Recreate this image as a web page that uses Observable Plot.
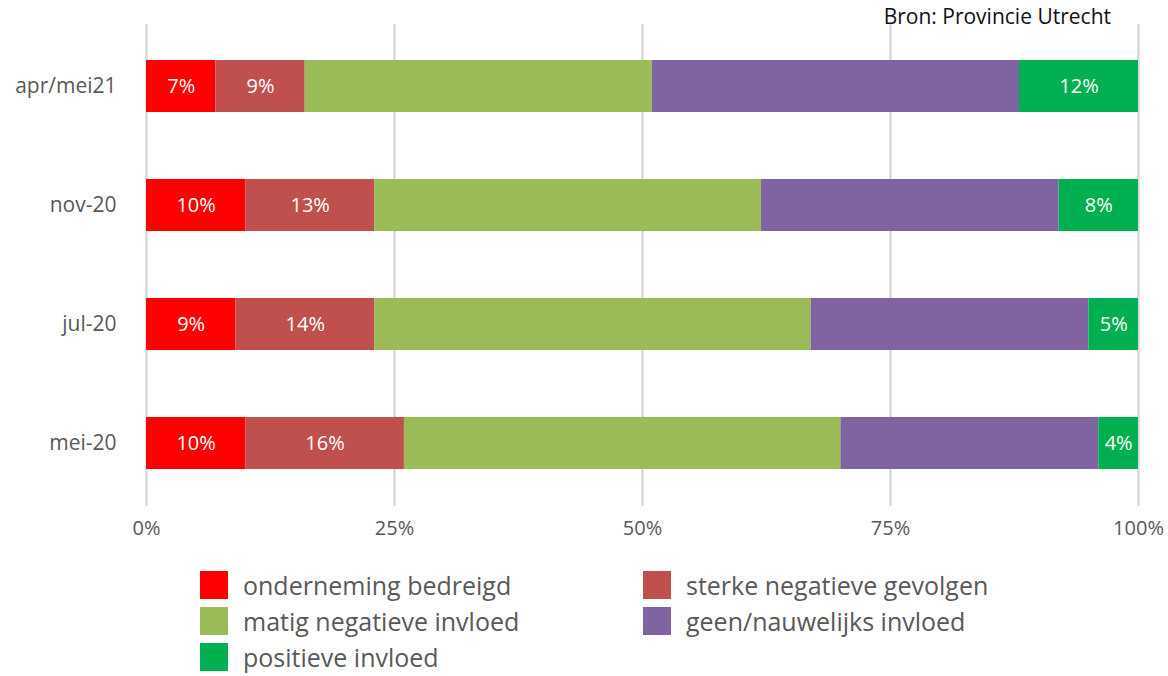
<!DOCTYPE html>
<html>
<head>
<meta charset="utf-8">
<script src="https://cdn.jsdelivr.net/npm/d3@7"></script>
<script src="https://cdn.jsdelivr.net/npm/@observablehq/plot@0.6"></script>
<style>
  body { margin: 0; background: #fff; font-family: "Open Sans", sans-serif; }
  #wrap { position: relative; width: 1168px; height: 676px; }
  #source { position: absolute; top: 2px; right: 57px; font-size: 21px; color: #111; }
  #legend { position: absolute; top: 571px; left: 200px; display: grid;
            grid-template-columns: 443px 460px; row-gap: 8px; }
  .item { display: flex; align-items: center; height: 28px; line-height: 28px; font-size: 25px; color: #595959; }
  .sw { width: 28px; height: 28px; margin-right: 15px; flex: none; }
</style>
</head>
<body>
<div id="wrap">
  <div id="chart"></div>
  <div id="source">Bron: Provincie Utrecht</div>
  <div id="legend"></div>
</div>
<script>
const periods = ["apr/mei21", "nov-20", "jul-20", "mei-20"];
const categories = ["onderneming bedreigd", "sterke negatieve gevolgen", "matig negatieve invloed", "geen/nauwelijks invloed", "positieve invloed"];
const colors = ["#FF0000", "#C0504D", "#9BBB59", "#8064A2", "#00B050"];
const labelled = [true, true, false, false, true];
// values per category, in order of periods
const ondernemingBedreigd = [7, 10, 9, 10];
const sterkeNegatieve = [9, 13, 14, 16];
const matigNegatieve = [35, 39, 44, 44];
const geenNauwelijks = [37, 30, 28, 26];
const positieve = [12, 8, 5, 4];
const series = [ondernemingBedreigd, sterkeNegatieve, matigNegatieve, geenNauwelijks, positieve];
const xTicks = [0, 0.25, 0.5, 0.75, 1];

const data = [];
categories.forEach((c, ci) => {
  periods.forEach((p, pi) => {
    data.push({period: p, cat: c, value: series[ci][pi] / 100, ci});
  });
});

const fmt = d => Math.round(d * 100) + "%";

const chart = Plot.plot({
  width: 1168,
  height: 560,
  marginLeft: 146,
  marginRight: 30,
  marginTop: 24,
  marginBottom: 54,
  style: {fontFamily: "'Open Sans', sans-serif", fontSize: "20px", color: "#595959", background: "#fff"},
  x: {domain: [0, 1], label: null},
  y: {domain: periods, label: null, paddingInner: 0.56, paddingOuter: 0.3},
  color: {domain: categories, range: colors},
  marks: [
    Plot.ruleX(xTicks, {stroke: "#d9d9d9", strokeWidth: 2.5}),
    Plot.barX(data, Plot.stackX({x: "value", y: "period", fill: "cat", order: categories})),
    Plot.text(data, Plot.stackX({
      x: "value", y: "period", z: "cat", order: categories,
      text: d => labelled[d.ci] ? fmt(d.value) : null,
      fill: "white", fontSize: 20
    })),
    Plot.axisX({ticks: xTicks, tickFormat: fmt, tickSize: 0, tickPadding: 14, label: null, fontSize: 20}),
    Plot.axisY({tickSize: 0, tickPadding: 30, label: null, fontSize: 21})
  ]
});
document.getElementById("chart").appendChild(chart);

const legend = document.getElementById("legend");
categories.forEach((c, i) => {
  const it = document.createElement("div");
  it.className = "item";
  const sw = document.createElement("div");
  sw.className = "sw";
  sw.style.background = colors[i];
  const t = document.createElement("span");
  t.textContent = c;
  it.appendChild(sw);
  it.appendChild(t);
  legend.appendChild(it);
});
</script>
</body>
</html>
